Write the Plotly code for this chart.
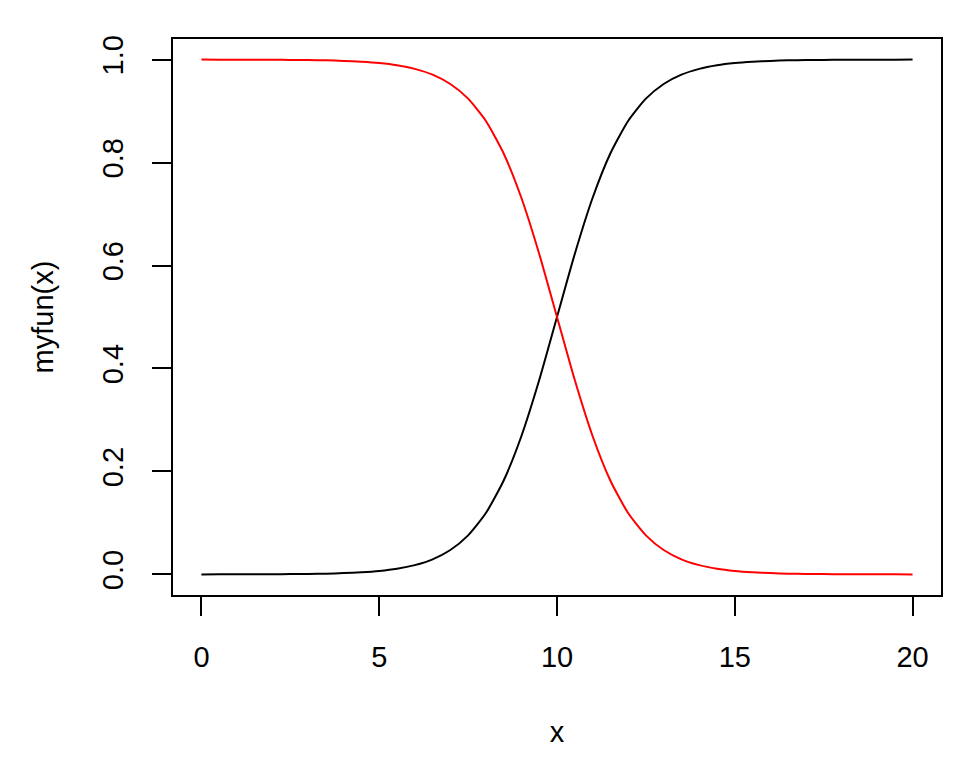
import plotly.graph_objects as go

x_vals = [0.0, 0.5, 1.0, 1.5, 2.0, 2.5, 3.0, 3.5, 4.0, 4.5, 5.0, 5.5, 6.0, 6.5, 7.0, 7.5,
          8.0, 8.5, 9.0, 9.5, 10.0, 10.5, 11.0, 11.5, 12.0, 12.5, 13.0, 13.5, 14.0, 14.5,
          15.0, 15.5, 16.0, 16.5, 17.0, 17.5, 18.0, 18.5, 19.0, 19.5, 20.0]

black_vals = [0.0000, 0.0001, 0.0001, 0.0002, 0.0003, 0.0006, 0.0009, 0.0015, 0.0025, 0.0041,
              0.0067, 0.0110, 0.0180, 0.0293, 0.0474, 0.0759, 0.1192, 0.1824, 0.2689, 0.3775,
              0.5000, 0.6225, 0.7311, 0.8176, 0.8808, 0.9241, 0.9526, 0.9707, 0.9820, 0.9890,
              0.9933, 0.9959, 0.9975, 0.9985, 0.9991, 0.9994, 0.9997, 0.9998, 0.9999, 0.9999, 1.0000]

red_vals = [1.0000, 0.9999, 0.9999, 0.9998, 0.9997, 0.9994, 0.9991, 0.9985, 0.9975, 0.9959,
            0.9933, 0.9890, 0.9820, 0.9707, 0.9526, 0.9241, 0.8808, 0.8176, 0.7311, 0.6225,
            0.5000, 0.3775, 0.2689, 0.1824, 0.1192, 0.0759, 0.0474, 0.0293, 0.0180, 0.0110,
            0.0067, 0.0041, 0.0025, 0.0015, 0.0009, 0.0006, 0.0003, 0.0002, 0.0001, 0.0001, 0.0000]

x_ticks = [0, 5, 10, 15, 20]
y_ticks = [0.0, 0.2, 0.4, 0.6, 0.8, 1.0]
y_tick_text = ["0.0", "0.2", "0.4", "0.6", "0.8", "1.0"]

font_family = "Liberation Sans, Arial, sans-serif"

fig = go.Figure()
fig.add_trace(go.Scatter(x=x_vals, y=black_vals, mode="lines",
                         line=dict(color="black", width=2, shape="spline", smoothing=0.6),
                         showlegend=False, hoverinfo="skip"))
fig.add_trace(go.Scatter(x=x_vals, y=red_vals, mode="lines",
                         line=dict(color="red", width=2, shape="spline", smoothing=0.6),
                         showlegend=False, hoverinfo="skip"))

fig.update_layout(
    width=960, height=768,
    paper_bgcolor="white", plot_bgcolor="white",
    margin=dict(l=165, r=27, t=31, b=181, autoexpand=False),
    font=dict(family=font_family, size=29, color="black"),
    xaxis=dict(range=[-0.8, 20.8], tickvals=x_ticks, ticks="outside", ticklen=19,
               tickwidth=2, tickcolor="black", showline=True, linecolor="black",
               linewidth=2, mirror=True, showgrid=False, zeroline=False,
               ticklabelstandoff=16, automargin=False,
               title=dict(text="x", standoff=50, font=dict(size=29))),
    yaxis=dict(range=[-0.04, 1.04], tickvals=y_ticks, ticktext=y_tick_text,
               ticks="outside", ticklen=19, tickwidth=2, tickcolor="black",
               showline=True, linecolor="black", linewidth=2, mirror=True,
               showgrid=False, zeroline=False, tickangle=-90,
               ticklabelstandoff=17, automargin=False,
               title=dict(text="myfun(x)", standoff=35, font=dict(size=29))),
)

fig.write_html("out.html")
